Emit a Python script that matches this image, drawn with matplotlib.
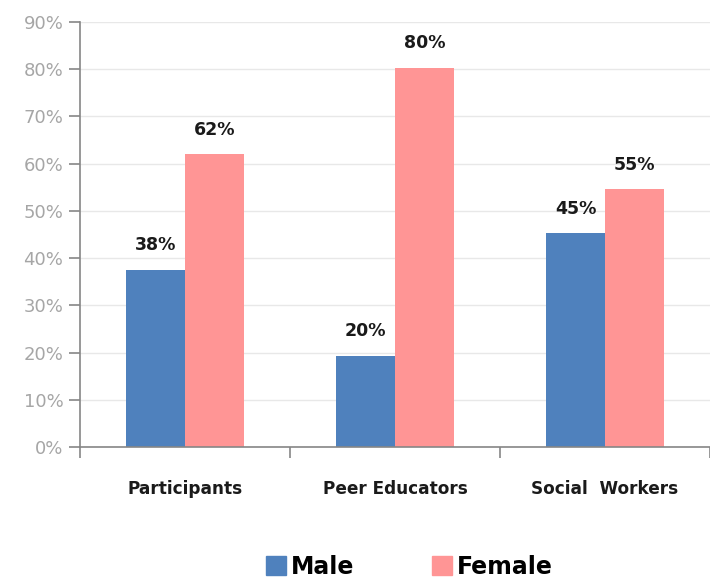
import numpy as np
import matplotlib.pyplot as plt
from matplotlib.patches import Patch

categories = ['Participants', 'Peer Educators', 'Social  Workers']
male = [37.5, 19.3, 45.3]
female = [62.0, 80.3, 54.6]
male_labels = ['38%', '20%', '45%']
female_labels = ['62%', '80%', '55%']

blue = '#4f81bd'
pink = '#ff9595'

plt.rcParams['font.family'] = ['DejaVu Sans']

fig = plt.figure(figsize=[7.1, 5.81], dpi=100)
ax = fig.add_axes([80/710, 134/581, 630/710, 425/581])

x = np.arange(len(categories))
w = 0.28
ax.bar(x - w/2, male, w, color=blue, zorder=2)
ax.bar(x + w/2, female, w, color=pink, zorder=2)

for i in range(len(categories)):
    ax.text(x[i] - w/2, male[i] + 3.3, male_labels[i], ha='center', va='bottom',
            fontsize=12.5, fontweight='bold', color='#1a1a1a')
    ax.text(x[i] + w/2, female[i] + 3.3, female_labels[i], ha='center', va='bottom',
            fontsize=12.5, fontweight='bold', color='#1a1a1a')

ax.set_xlim(-0.5, 2.5)
ax.set_ylim(0, 90)
ax.set_yticks(np.arange(0, 91, 10))
ax.set_yticklabels(['%d%%' % v for v in range(0, 91, 10)], color='#a6a6a6', fontsize=13)
ax.yaxis.grid(True, color='#e8e8e8', linewidth=1, zorder=0)

ax.set_xticks([-0.5, 0.5, 1.5, 2.5])
ax.set_xticklabels([])
ax.set_xticks(x, minor=True)
ax.set_xticklabels(categories, minor=True, fontsize=12.2, fontweight='bold', color='#1a1a1a')
ax.tick_params(axis='x', which='minor', length=0, pad=24)
ax.tick_params(axis='x', which='major', length=8, color='#868686', width=1.2)
ax.tick_params(axis='y', length=8, color='#868686', width=1.2, pad=4)

for s in ['top', 'right']:
    ax.spines[s].set_visible(False)
for s in ['left', 'bottom']:
    ax.spines[s].set_color('#868686')
    ax.spines[s].set_linewidth(1.2)

handles = [Patch(color=blue, label='Male'), Patch(color=pink, label='Female')]
fig.legend(handles=handles, loc='center', bbox_to_anchor=(409/710, 1 - 567/581), ncol=2,
           frameon=False, prop={'size': 17, 'weight': 'bold'}, handlelength=0.85,
           handleheight=0.85, handletextpad=0.2, columnspacing=3.3)

fig.savefig('out.png', dpi=100)
